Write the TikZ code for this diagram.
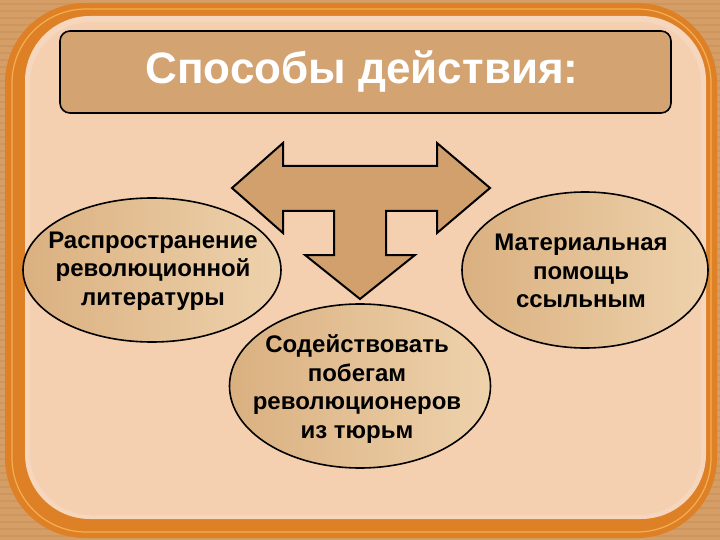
\documentclass[tikz,border=0pt]{standalone}
\usepackage{fontspec}
\setmainfont{Liberation Sans}
\usetikzlibrary{shapes.geometric,positioning}
\definecolor{wood}{RGB}{212,158,102}
\definecolor{woodline}{RGB}{190,130,75}
\definecolor{frameorange}{RGB}{221,128,38}
\definecolor{framelight}{RGB}{245,175,80}
\definecolor{panel}{RGB}{244,207,176}
\definecolor{titlefill}{RGB}{211,164,114}
\definecolor{arrowfill}{RGB}{209,160,108}
\definecolor{ovaldark}{RGB}{218,176,128}
\definecolor{ovallight}{RGB}{238,210,172}
\tikzset{>=latex,
  oval/.style={draw=black, line width=1.6pt, ellipse, inner sep=0pt, left color=ovaldark, right color=ovallight},
  ovaltext/.style={align=center, font=\fontsize{24}{28.5}\selectfont\bfseries},
}

\begin{document}
\begin{tikzpicture}[x=1pt,y=-1pt]
  \useasboundingbox (0,0) rectangle (720,540);
  % background and frame
  \fill[wood] (0,0) rectangle (720,540);
  \foreach \yy in {4,11,...,536}
    \draw[woodline, line width=1.2pt, opacity=0.25] (0,\yy) -- (720,\yy);
  \fill[frameorange, rounded corners=80pt] (5,3) rectangle (717,538);
  \draw[framelight, line width=1.2pt, rounded corners=74pt] (12,9) rectangle (711,532);
  \fill[panel!85!white, rounded corners=65pt] (25,16) rectangle (706,519);
  \fill[panel, rounded corners=62pt] (30,22) rectangle (701,515);

  % title
  \node[draw=black, line width=1.6pt, rounded corners=10pt, fill=titlefill, minimum width=611pt, minimum height=82pt] (title) at (365.5,72) {};
  \node[text=white, font=\fontsize{44}{52}\selectfont\bfseries] at (362,72) {Способы действия:};

  % T-shaped arrow
  \draw[line width=2pt, line join=miter, fill=arrowfill] (232,188) -- (283,143) -- (283,166) -- (437,166) -- (437,143) -- (490,188)
    -- (437,233) -- (437,211) -- (386,211) -- (386,255) -- (415,255) -- (360,299)
    -- (305,255) -- (334,255) -- (334,211) -- (283,211) -- (283,233) -- cycle;

  % ovals
  \node[oval, minimum width=258pt, minimum height=144pt] (lit) at (152,270) {};
  \node[ovaltext] at (153,271) {Распространение\\революционной\\литературы};
  \node[oval, minimum width=246pt, minimum height=156pt] (help) at (585,270) {};
  \node[ovaltext] at (581,271) {Материальная\\помощь\\ссыльным};
  \node[oval, minimum width=261pt, minimum height=164pt] (escape) at (360,386) {};
  \node[ovaltext] at (357,389) {Содействовать\\побегам\\революционеров\\из тюрьм};
\end{tikzpicture}
\end{document}
